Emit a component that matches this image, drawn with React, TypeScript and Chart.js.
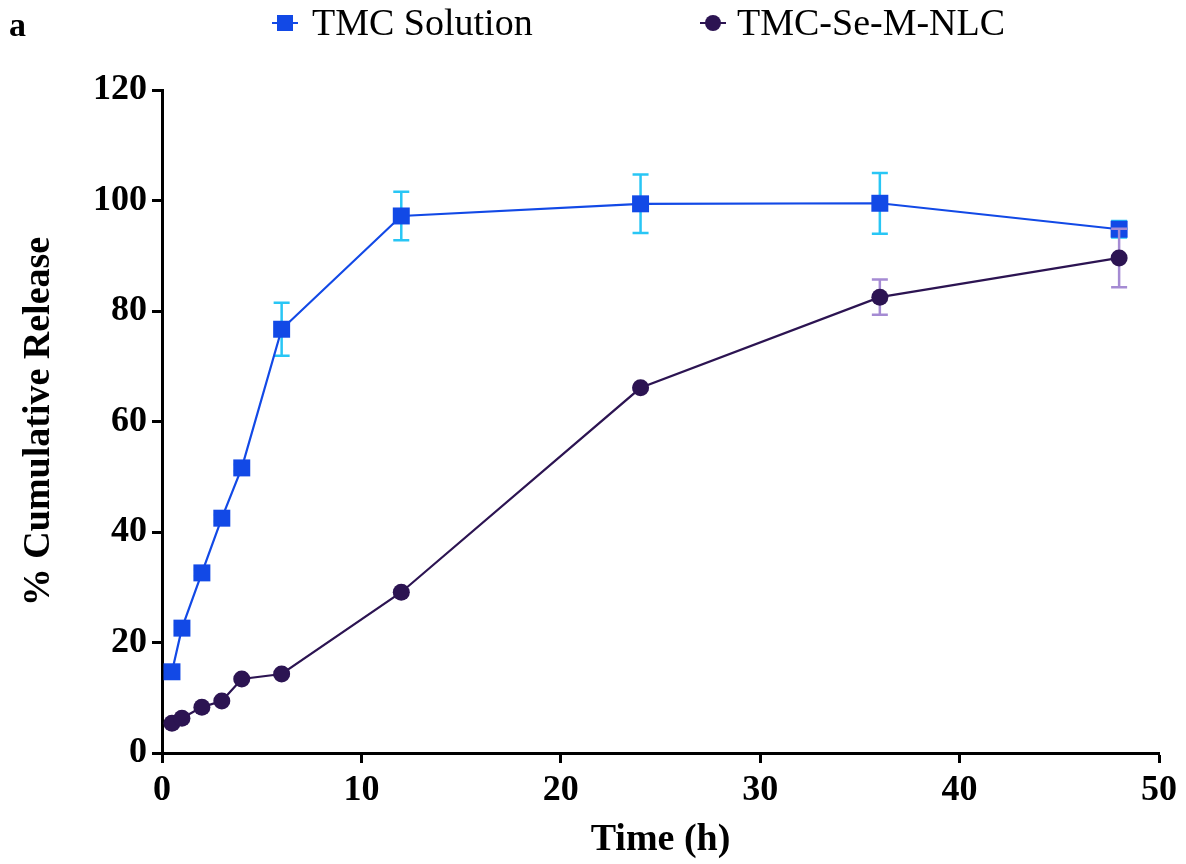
import { useEffect, useRef } from "react";
import { Chart, registerables } from "chart.js";

Chart.register(...registerables);

const timePoints = [0.5, 1, 2, 3, 4, 6, 12, 24, 36, 48];
const solutionValues = [14.7, 22.6, 32.6, 42.5, 51.6, 76.7, 97.2, 99.4, 99.5, 94.8];
const solutionErrors = [0.6, 0.6, 0.6, 0.6, 0.6, 4.8, 4.4, 5.3, 5.5, 1.5];
const nlcValues = [5.4, 6.3, 8.3, 9.4, 13.4, 14.3, 29.1, 66.1, 82.5, 89.6];
const nlcErrors = [0.3, 0.3, 0.3, 0.3, 0.3, 0.3, 0.3, 0.3, 3.2, 5.3];
const seriesLabels = ["TMC Solution", "TMC-Se-M-NLC"];
const yTicks = [0, 20, 40, 60, 80, 100, 120];
const xTicks = [0, 10, 20, 30, 40, 50];

const BLUE = "#1249E6";
const CYAN = "#28C6F5";
const PURPLE = "#2C1452";
const LAVENDER = "#A58BD3";

const errorSets = [
  { errors: solutionErrors, color: CYAN },
  { errors: nlcErrors, color: LAVENDER },
];

const errorBarPlugin = {
  id: "errorBars",
  beforeDatasetDraw(chart: any, args: any) {
    const set = errorSets[args.index];
    if (!set) return;
    const ds = chart.data.datasets[args.index];
    const x = chart.scales.x;
    const y = chart.scales.y;
    const ctx = chart.ctx;
    ctx.save();
    ctx.strokeStyle = set.color;
    ctx.lineWidth = 2.5;
    ds.data.forEach((p: any, i: number) => {
      const e = set.errors[i];
      const px = x.getPixelForValue(p.x);
      const top = y.getPixelForValue(p.y + e);
      const bot = y.getPixelForValue(p.y - e);
      ctx.beginPath();
      ctx.moveTo(px, top);
      ctx.lineTo(px, bot);
      ctx.moveTo(px - 8, top);
      ctx.lineTo(px + 8, top);
      ctx.moveTo(px - 8, bot);
      ctx.lineTo(px + 8, bot);
      ctx.stroke();
    });
    ctx.restore();
  },
};

const legendPlugin = {
  id: "customLegend",
  afterDraw(chart: any) {
    const ctx = chart.ctx;
    ctx.save();
    ctx.fillStyle = "#000";
    ctx.font = "bold 34px 'Liberation Serif'";
    ctx.textBaseline = "middle";
    ctx.textAlign = "left";
    ctx.fillText("a", 9, 27);
    const cy = 23;
    // item 1
    ctx.strokeStyle = BLUE;
    ctx.lineWidth = 2;
    ctx.beginPath();
    ctx.moveTo(272, cy);
    ctx.lineTo(298, cy);
    ctx.stroke();
    ctx.fillStyle = BLUE;
    ctx.fillRect(277, cy - 8, 16, 16);
    ctx.fillStyle = "#000";
    ctx.font = "38px 'Liberation Serif'";
    ctx.fillText(seriesLabels[0], 312, cy + 2);
    // item 2
    ctx.strokeStyle = PURPLE;
    ctx.beginPath();
    ctx.moveTo(700, cy);
    ctx.lineTo(726, cy);
    ctx.stroke();
    ctx.fillStyle = PURPLE;
    ctx.beginPath();
    ctx.arc(713, cy, 8, 0, Math.PI * 2);
    ctx.fill();
    ctx.fillStyle = "#000";
    ctx.fillText(seriesLabels[1], 737, cy + 2);
    ctx.restore();
  },
};

export default function App() {
  const ref = useRef<HTMLCanvasElement>(null);
  useEffect(() => {
    document.body.style.margin = "0";
    const chart = new Chart(ref.current!, {
      type: "scatter",
      data: {
        datasets: [
          {
            label: seriesLabels[0],
            data: timePoints.map((t, i) => ({ x: t, y: solutionValues[i] })),
            showLine: true,
            borderColor: BLUE,
            backgroundColor: BLUE,
            borderWidth: 2.2,
            pointStyle: "rect",
            pointRadius: 12,
            pointBorderWidth: 0,
            order: 1,
          },
          {
            label: seriesLabels[1],
            data: timePoints.map((t, i) => ({ x: t, y: nlcValues[i] })),
            showLine: true,
            borderColor: PURPLE,
            backgroundColor: PURPLE,
            borderWidth: 2.2,
            pointStyle: "circle",
            pointRadius: 8.5,
            pointBorderWidth: 0,
            order: 0,
          },
        ],
      },
      options: {
        responsive: false,
        animation: false,
        layout: { padding: { top: 90, right: 27, left: 0, bottom: 0 } },
        plugins: { legend: { display: false }, tooltip: { enabled: false } },
        scales: {
          x: {
            type: "linear",
            min: 0,
            max: 50,
            afterFit: (s: any) => {
              s.height = 111;
            },
            afterBuildTicks: (s: any) => {
              s.ticks = xTicks.map((v) => ({ value: v }));
            },
            border: { color: "#000", width: 3 },
            grid: {
              drawOnChartArea: false,
              drawTicks: true,
              tickLength: 10,
              tickWidth: 3,
              tickColor: "#000",
            },
            ticks: {
              color: "#000",
              padding: 6,
              font: { family: "'Liberation Serif'", size: 36, weight: "bold" },
            },
            title: {
              display: true,
              text: "Time (h)",
              color: "#000",
              font: { family: "'Liberation Serif'", size: 38, weight: "bold" },
              padding: { top: 0, bottom: 1 },
            },
          },
          y: {
            type: "linear",
            min: 0,
            max: 120,
            afterFit: (s: any) => {
              s.width = 162;
            },
            afterBuildTicks: (s: any) => {
              s.ticks = yTicks.map((v) => ({ value: v }));
            },
            border: { color: "#000", width: 3 },
            grid: {
              drawOnChartArea: false,
              drawTicks: true,
              tickLength: 10,
              tickWidth: 3,
              tickColor: "#000",
            },
            ticks: {
              color: "#000",
              padding: 5,
              font: { family: "'Liberation Serif'", size: 36, weight: "bold" },
            },
            title: {
              display: true,
              text: "% Cumulative Release",
              color: "#000",
              font: { family: "'Liberation Serif'", size: 38, weight: "bold" },
              padding: { top: 16, bottom: 0 },
            },
          },
        },
      },
      plugins: [errorBarPlugin, legendPlugin],
    } as any);
    return () => chart.destroy();
  }, []);
  return (
    <div style={{ position: "absolute", left: 0, top: 0, width: 1186, height: 864, background: "#fff" }}>
      <canvas ref={ref} width={1186} height={864} style={{ width: 1186, height: 864 }} />
    </div>
  );
}
